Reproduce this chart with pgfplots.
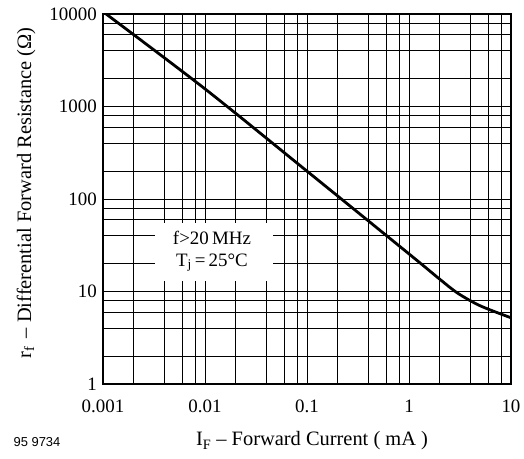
\documentclass[border=0pt]{standalone}
\usepackage{fontspec}
\setmainfont{Liberation Serif}
\newfontfamily\labelsans{Liberation Sans}
\usepackage{pgfplots}
\pgfplotsset{compat=1.18}

\begin{document}
\begin{tikzpicture}
\begin{axis}[
    name=main,
    at={(0,0)}, anchor=south west,
    scale only axis,
    width=408bp, height=370bp,
    xmode=log, ymode=log,
    xmin=0.001, xmax=10,
    ymin=1, ymax=10000,
    xtick={0.001,0.01,0.1,1,10},
    xticklabels={0.001,0.01,0.1,1,10},
    ytick={1,10,100,1000,10000},
    yticklabels={1,10,100,1000,10000},
    minor xtick={0.002,0.004,0.006,0.008,0.02,0.04,0.06,0.08,0.2,0.4,0.6,0.8,2,4,6,8},
    minor ytick={2,4,6,8,20,40,60,80,200,400,600,800,2000,4000,6000,8000},
    major tick length=0pt, minor tick length=0pt,
    grid=both,
    major grid style={black, line width=0.8bp},
    minor grid style={black, line width=0.8bp},
    axis line style={black, line width=2bp},
    tick label style={font=\fontsize{19}{22}\selectfont, inner sep=0pt},
    xticklabel style={yshift=-16bp},
    yticklabel style={xshift=-6bp},
    /pgf/number format/assume math mode=true,
    clip=true,
]
% r_f versus I_F
\addplot[black, line width=2.8bp, smooth, tension=0.5] coordinates {
    (0.001,10600) (0.01,1550) (0.1,200) (1,25.5)
    (2,13.6) (3,9.6) (5,7.0) (10,5.2)
};
% white panel behind the conditions
\fill[white] (axis cs:0.00324,13.1) rectangle (axis cs:0.0465,55.2);
\node[font=\fontsize{19}{22}\selectfont] at (axis cs:0.0117,38) {f>20\,MHz};
\node[font=\fontsize{19}{22}\selectfont] at (axis cs:0.0117,20.5) {T\textsubscript{j}\,=\,25°C};
\end{axis}
\node[font=\fontsize{20.5}{24}\selectfont, rotate=90] at (-77bp,191bp)
    {r\textsubscript{f} \,– Differential Forward Resistance (Ω)};
\node[font=\fontsize{20.5}{24}\selectfont] at (209bp,-57bp)
    {I\textsubscript{F} – Forward Current ( mA )};
\node[font=\labelsans\fontsize{13}{15}\selectfont] at (-66bp,-58bp) {95 9734};
\pgfresetboundingbox
\path[use as bounding box] (-103bp,-75bp) rectangle (421bp,384bp);
\end{tikzpicture}
\end{document}
